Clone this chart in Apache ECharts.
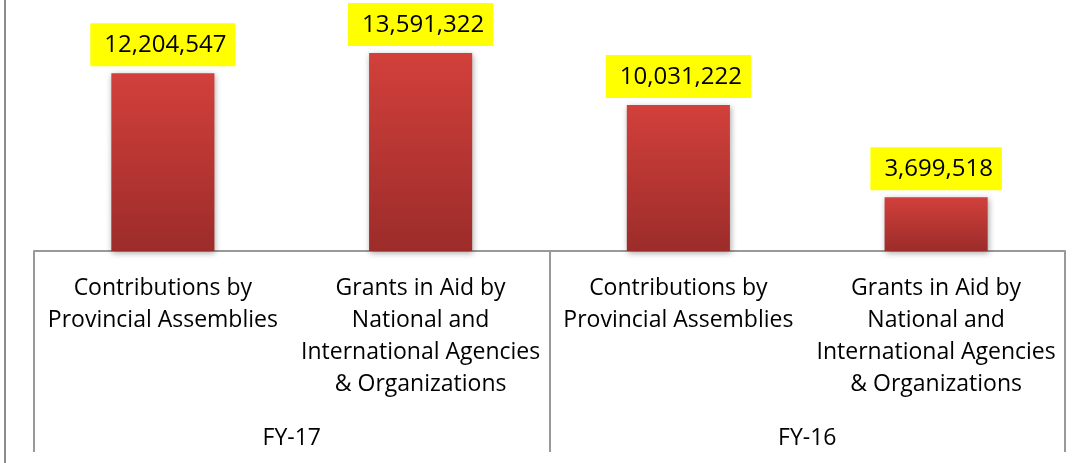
<!DOCTYPE html>
<html>
<head>
<meta charset="utf-8">
<script src="https://cdn.jsdelivr.net/npm/echarts@6/dist/echarts.min.js"></script>
<style>
html,body{margin:0;padding:0;background:#fff;}
#chart{position:absolute;left:0;top:0;width:1088px;height:463px;}
#edge{position:absolute;left:4px;top:0;width:2px;height:463px;background:#8c8c8c;}
</style>
</head>
<body>
<div id="chart"></div>
<div id="edge"></div>
<script>
const categories = [
  'Contributions by\nProvincial Assemblies',
  'Grants in Aid by\nNational and\nInternational Agencies\n& Organizations',
  'Contributions by\nProvincial Assemblies',
  'Grants in Aid by\nNational and\nInternational Agencies\n& Organizations'
];
const groups = ['FY-17', 'FY-16'];
const values = [12204547, 13591322, 10031222, 3699518];

const FONT = '"Open Sans", sans-serif';
const chart = echarts.init(document.getElementById('chart'), null, {renderer: 'canvas'});
chart.setOption({
  animation: false,
  grid: {left: 34, right: 23, top: 18, bottom: 212},
  xAxis: [
    {
      type: 'category',
      data: categories,
      axisLine: {show: true, lineStyle: {color: '#999', width: 2}},
      axisTick: {show: false},
      axisLabel: {interval: 0, margin: 21, color: '#000', fontFamily: FONT, fontSize: 23, lineHeight: 32, align: 'center'}
    },
    {
      type: 'category',
      data: groups,
      position: 'bottom',
      axisLine: {show: false},
      axisTick: {show: true, length: 201, lineStyle: {color: '#999', width: 2}},
      axisLabel: {interval: 0, margin: 176, color: '#000', fontFamily: FONT, fontSize: 23}
    }
  ],
  yAxis: {type: 'value', min: 0, max: 16000000, show: false, splitLine: {show: false}},
  series: [{
    type: 'bar',
    xAxisIndex: 0,
    data: values,
    barWidth: '40%',
    itemStyle: {
      color: new echarts.graphic.LinearGradient(0, 0, 0, 1, [
        {offset: 0, color: '#d2403b'},
        {offset: 1, color: '#9c2c2a'}
      ]),
      shadowBlur: 6,
      shadowColor: 'rgba(0,0,0,0.35)',
      shadowOffsetX: 1,
      shadowOffsetY: 2
    },
    label: {
      show: true,
      position: 'top',
      distance: 7,
      color: '#000',
      fontFamily: FONT,
      fontSize: 24,
      backgroundColor: '#ffff00',
      padding: [10, 9, 9, 14],
      formatter: p => p.value.toLocaleString('en-US')
    }
  }]
});
</script>
</body>
</html>
